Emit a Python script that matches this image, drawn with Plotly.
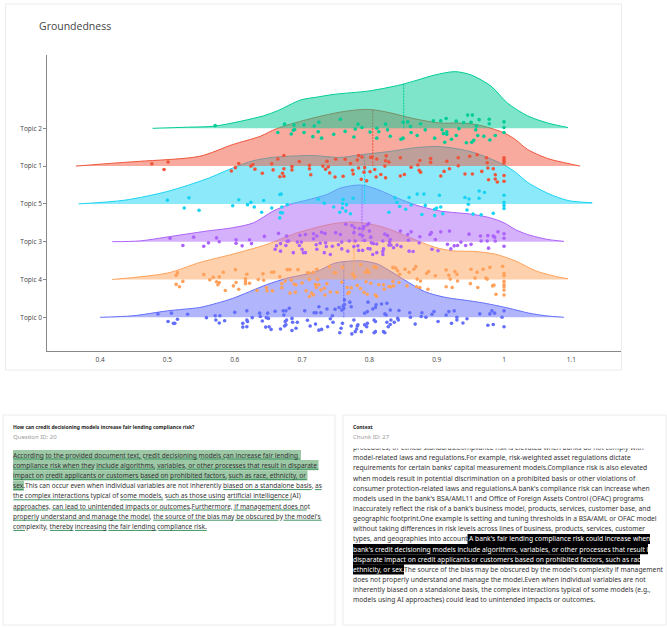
import plotly.graph_objects as go
import numpy as np

W, H = 667, 627
topics = ["Topic 0", "Topic 4", "Topic 3", "Topic 5", "Topic 1", "Topic 2"]
colors = ["#636efa", "#FFA15A", "#ab63fa", "#19d3f3", "#EF553B", "#00cc96"]
x_ticks = [0.4, 0.5, 0.6, 0.7, 0.8, 0.9, 1, 1.1]
medians = [0.762, 0.777, 0.789, 0.793, 0.805, 0.851]

density_0 = [(.40,0),(.449,.04),(.50,.17),(.548,.26),(.573,.37),(.597,.50),(.647,.86),(.677,1.03),(.722,1.21),(.748,1.43),(.773,1.49),(.79,1.49),(.812,1.41),(.832,1.21),(.852,.99),(.882,.68),(.912,.53),(.947,.44),(.972,.37),(1.007,.24),(1.037,.11),(1.062,.04),(1.089,0)]
density_4 = [(.418,0),(.5,.17),(.548,.45),(.597,.67),(.648,.93),(.687,1.20),(.722,1.38),(.748,1.48),(.773,1.52),(.797,1.48),(.823,1.37),(.848,1.20),(.872,1.02),(.898,.85),(.922,.76),(.957,.74),(.987,.67),(1.017,.49),(1.047,.23),(1.077,.08),(1.095,.02)]
density_3 = [(.418,0),(.459,.02),(.498,.12),(.558,.28),(.597,.37),(.628,.50),(.657,.81),(.682,.99),(.707,1.10),(.737,1.25),(.757,1.42),(.787,1.50),(.811,1.39),(.841,1.16),(.869,.97),(.89,.87),(.905,.81),(.955,.72),(.98,.63),(1.0,.50),(1.017,.32),(1.035,.19),(1.065,.06),(1.089,.01)]
density_5 = [(.368,0),(.437,.10),(.50,.33),(.558,.66),(.597,.95),(.627,1.14),(.656,1.23),(.692,1.27),(.716,1.28),(.757,1.23),(.787,1.30),(.831,1.39),(.865,1.48),(.90,1.52),(.930,1.46),(.955,1.36),(.975,1.23),(1.0,1.03),(1.017,.84),(1.035,.57),(1.065,.28),(1.095,.09),(1.131,.03)]
density_1 = [(.364,0),(.425,.085),(.459,.127),(.548,.26),(.597,.57),(.638,.79),(.662,.99),(.707,1.23),(.757,1.43),(.791,1.50),(.806,1.49),(.831,1.41),(.865,1.26),(.905,1.14),(.930,1.14),(.955,1.11),(.975,1.03),(1.0,.88),(1.017,.70),(1.035,.44),(1.065,.20),(1.095,.07),(1.113,0)]
density_2 = [(.478,0),(.53,.03),(.571,.06),(.6426,.33),(.663,.46),(.698,.75),(.72,.82),(.748,.90),(.80,.99),(.846,1.15),(.872,1.28),(.897,1.41),(.927,1.50),(.9515,1.41),(.981,1.11),(1.005,.67),(1.035,.33),(1.065,.14),(1.095,.02)]

points_2 = [(.571,.07),(.674,.11),(.688,.09),(.689,-.03),(.687,-.05),(.664,-.11),(.684,-.15),(.703,.09),(.718,.06),(.725,.16),(.724,-.09),(.703,-.11),(.716,-.22),(.729,-.26),(.747,-.16),(.757,.24),(.783,.11),(.789,.02),(.779,-.02),(.764,-.08),(.777,-.23),(.801,-.10),(.811,0),(.814,-.09),(.824,.11),(.827,-.04),(.811,-.26),(.831,-.21),(.850,.16),(.857,.17),(.861,.05),(.862,-.11),(.876,.12),(.883,-.04),(.895,.20),(.906,.20),(.914,.26),(.929,.19),(.940,.15),(.951,.16),(.963,.23),(.978,.24),(.978,.12),(.959,.06),(.958,-.04),(.933,-.01),(.908,-.04),(.910,-.14),(.915,-.09),(.915,-.16),(.929,-.19),(.922,-.29),(.897,-.26),(.871,-.19),(.850,-.26),(.847,-.29),(.912,-.37),(.944,-.38),(.952,-.37),(.955,-.32),(.961,-.19),(.970,-.21),(.979,-.31),(.987,-.19),(1.0,.17),(1.0,.02),(1.0,-.11),(.946,.35),(.953,.35)]
points_1 = [(.477,.06),(.501,.11),(.495,-.09),(.595,-.13),(.601,-.04),(.606,.07),(.624,0),(.627,.04),(.630,-.08),(.641,-.19),(.655,.06),(.657,-.10),(.664,.19),(.673,.28),(.673,-.07),(.671,-.19),(.667,-.28),(.673,-.27),(.685,-.01),(.685,-.10),(.696,.12),(.711,.02),(.711,-.07),(.713,-.23),(.731,0),(.735,-.08),(.737,.13),(.739,-.02),(.741,-.18),(.750,.18),(.749,-.29),(.761,-.27),(.764,.18),(.772,.07),(.775,-.11),(.776,-.21),(.782,.16),(.784,.28),(.784,-.05),(.789,.24),(.793,-.04),(.792,-.16),(.788,-.35),(.796,-.39),(.802,.23),(.801,-.15),(.804,.24),(.808,-.09),(.811,.19),(.810,-.29),(.817,-.22),(.824,-.31),(.823,0),(.824,.14),(.825,.27),(.829,.11),(.846,.22),(.846,-.26),(.852,-.22),(.862,-.03),(.872,.03),(.875,.15),(.874,-.11),(.876,-.16),(.891,.20),(.891,.10),(.906,-.26),(.911,-.14),(.915,.13),(.919,-.07),(.932,.01),(.932,.22),(.942,-.21),(.949,.26),(.953,-.21),(.960,.30),(.967,-.14),(.974,.22),(.975,.09),(.976,-.05),(.977,-.36),(.984,-.07),(.987,-.23),(.987,-.34),(.990,-.42),(1.0,-.25),(1.0,-.40),(1.0,.22),(1.0,.17),(1.0,.13),(1.0,.08)]
points_5 = [(.500,.10),(.532,.16),(.525,-.11),(.547,-.17),(.597,-.05),(.606,.11),(.619,-.02),(.624,.04),(.629,-.08),(.643,.09),(.640,-.22),(.655,-.11),(.667,.25),(.669,.26),(.670,-.08),(.678,-.02),(.668,-.23),(.671,-.24),(.667,-.37),(.724,.12),(.733,.02),(.747,-.08),(.756,-.22),(.761,.12),(.760,.01),(.766,-.02),(.760,-.11),(.765,-.19),(.772,-.26),(.776,.15),(.829,-.22),(.838,.16),(.841,.04),(.845,-.07),(.854,-.14),(.859,.17),(.862,-.03),(.871,.26),(.881,.26),(.883,-.04),(.878,-.28),(.897,-.14),(.900,-.11),(.906,-.08),(.897,-.31),(.909,-.26),(.904,.23),(.942,.17),(.948,.13),(.963,.34),(.971,.30),(.963,.15),(.947,-.01),(.945,-.16),(.954,-.27),(.966,-.29),(.984,-.25),(1.0,.23),(1.0,.04),(1.0,-.04),(1.0,-.12)]
points_3 = [(.504,.09),(.539,.12),(.523,-.10),(.554,-.12),(.561,-.03),(.573,.10),(.577,0),(.602,.05),(.602,-.04),(.611,-.11),(.622,.05),(.625,-.05),(.644,.14),(.665,.22),(.662,-.11),(.660,-.20),(.668,-.05),(.668,-.25),(.677,.15),(.676,-.10),(.680,.02),(.678,.01),(.687,-.29),(.693,-.01),(.697,.17),(.699,-.01),(.696,-.10),(.700,-.20),(.702,-.29),(.705,-.29),(.705,.19),(.717,.21),(.717,.08),(.722,.15),(.721,-.08),(.722,-.20),(.727,-.04),(.729,.25),(.734,.22),(.733,-.29),(.735,-.03),(.736,-.13),(.742,-.34),(.745,-.12),(.750,.24),(.754,-.08),(.757,.19),(.765,.46),(.778,.37),(.774,.43),(.799,.48),(.797,.45),(.791,.34),(.785,.35),(.792,.40),(.786,.19),(.800,.28),(.777,.24),(.790,.16),(.802,.12),(.759,-.01),(.770,.02),(.779,.02),(.793,.03),(.803,-.03),(.806,-.05),(.783,-.11),(.784,-.23),(.790,-.23),(.759,-.19),(.768,-.25),(.777,-.13),(.798,-.18),(.801,-.19),(.805,-.34),(.811,-.29),(.821,-.19),(.820,-.26),(.820,-.34),(.811,-.06),(.820,.02),(.831,.06),(.830,-.01),(.829,-.09),(.832,-.09),(.823,.20),(.827,.16),(.836,-.16),(.841,-.09),(.847,-.13),(.859,-.25),(.865,-.26),(.846,.28),(.857,.19),(.862,.26),(.875,.13),(.858,.04),(.874,-.03),(.890,.19),(.892,.24),(.906,.26),(.919,.28),(.898,.06),(.893,-.20),(.902,-.24),(.916,-.07),(.921,-.19),(.926,-.11),(.931,-.10),(.936,-.01),(.943,-.10),(.948,.20),(.951,-.07),(.966,.02),(.965,.15),(.976,.16),(.975,.02),(.984,.15),(.987,.02),(.991,.26),(.986,.12),(1.0,.21),(1.0,.09),(1.0,-.12),(.977,-.17)]
points_4 = [(.513,.11),(.515,.18),(.513,-.13),(.518,-.19),(.523,-.05),(.554,.13),(.563,-.01),(.568,.06),(.577,.07),(.583,.19),(.573,-.06),(.577,-.08),(.575,-.14),(.586,-.29),(.598,-.17),(.602,-.08),(.601,.26),(.606,-.26),(.616,.02),(.618,.14),(.616,-.05),(.616,-.11),(.622,-.10),(.635,0),(.642,.15),(.643,-.02),(.633,-.29),(.647,-.21),(.648,-.30),(.656,-.30),(.655,.19),(.658,.20),(.667,.07),(.670,-.11),(.670,-.22),(.675,-.04),(.678,.26),(.682,.26),(.684,-.02),(.682,-.36),(.688,-.12),(.691,-.14),(.690,-.34),(.694,.26),(.700,-.09),(.706,-.30),(.708,.18),(.711,.17),(.711,0),(.717,.19),(.722,.27),(.723,0),(.714,-.36),(.711,-.45),(.717,-.41),(.721,-.21),(.720,-.13),(.725,-.14),(.728,-.28),(.733,-.23),(.734,-.41),(.737,-.11),(.742,-.33),(.741,.34),(.748,.18),(.750,.18),(.752,-.34),(.760,.32),(.759,-.07),(.767,-.21),(.770,-.34),(.768,-.37),(.773,-.22),(.782,-.16),(.787,-.24),(.792,-.34),(.797,-.39),(.775,.14),(.778,.08),(.787,.39),(.797,.26),(.794,.19),(.807,.34),(.799,.19),(.810,.32),(.795,-.06),(.802,-.10),(.814,-.14),(.821,-.14),(.822,-.26),(.809,-.41),(.811,-.45),(.829,-.19),(.832,-.19),(.836,-.17),(.835,-.05),(.844,-.08),(.835,.32),(.839,.30),(.842,.23),(.845,.14),(.853,.27),(.859,.19),(.866,.27),(.869,.34),(.856,-.17),(.871,.01),(.876,-.04),(.870,-.19),(.875,-.21),(.887,-.26),(.885,.16),(.888,.21),(.898,.10),(.914,.25),(.918,.11),(.920,.01),(.927,.21),(.931,-.04),(.930,.14),(.914,-.19),(.923,-.21),(.951,.27),(.950,-.11),(.960,.19),(.957,.04),(.969,.27),(.961,-.21),(.973,.04),(.979,.32),(.975,.01),(.983,-.17),(.985,-.15),(.988,-.39),(.998,.35),(1.0,.16),(1.0,.10),(1.0,-.05),(1.0,-.14),(1.0,-.28),(1.0,-.41),(1.0,-.19)]
points_0 = [(.486,.09),(.506,.11),(.501,-.11),(.509,-.16),(.511,-.16),(.515,-.05),(.530,.08),(.558,-.01),(.571,.04),(.578,.04),(.572,-.07),(.577,-.15),(.585,-.09),(.600,.13),(.612,-.16),(.612,-.26),(.618,-.25),(.618,.17),(.618,-.07),(.619,-.11),(.626,-.01),(.637,.11),(.638,.02),(.641,-.10),(.649,.11),(.647,-.01),(.650,-.03),(.646,-.26),(.651,-.25),(.654,-.32),(.660,.16),(.668,-.31),(.672,.17),(.676,.17),(.673,.06),(.681,.24),(.677,-.07),(.675,-.11),(.674,-.23),(.676,-.20),(.685,-.03),(.686,-.13),(.693,-.13),(.691,-.29),(.685,-.35),(.704,.17),(.708,-.08),(.712,-.23),(.718,.12),(.721,.12),(.720,-.18),(.725,.28),(.728,.12),(.725,-.34),(.729,-.32),(.738,-.25),(.737,.22),(.742,-.04),(.745,.04),(.746,-.13),(.749,.21),(.755,.26),(.756,-.41),(.760,-.16),(.758,-.29),(.761,.30),(.763,.46),(.763,.34),(.762,.24),(.759,.19),(.771,.40),(.773,.28),(.777,-.07),(.773,-.23),(.793,.11),(.798,.40),(.797,.15),(.805,.22),(.810,.33),(.809,.26),(.818,.35),(.826,.37),(.823,.09),(.825,.06),(.831,.19),(.844,.18),(.832,-.07),(.837,-.13),(.826,-.13),(.828,-.25),(.831,-.19),(.842,-.03),(.843,-.07),(.860,.12),(.861,0),(.868,-.18),(.878,.12),(.877,.02),(.884,0),(.893,.08),(.896,.15),(.902,-.11),(.914,.06),(.918,.15),(.926,.17),(.922,-.16),(.930,0),(.930,-.07),(.939,-.15),(.945,-.04),(.964,.09),(.979,.09),(.976,-.21),(.982,.17),(.984,-.19),(.986,.11),(1.0,.17),(.997,0),(1.0,-.25),(.807,-.07),(.809,-.11),(.797,-.16),(.793,-.20),(.796,-.25),(.782,-.23),(.781,-.31),(.779,-.38),(.774,-.44),(.788,-.38),(.807,-.41),(.809,-.38),(.821,-.38),(.823,-.41),(.783,-.20)]

all_density = [density_0, density_4, density_3, density_5, density_1, density_2]
all_points = [points_0, points_4, points_3, points_5, points_1, points_2]

question_title = "How can credit decisioning models increase fair lending compliance risk?"
question_id = "Question ID: 20"
answer_lines = [
    "According to the provided document text, credit decisioning models can increase fair lending",
    "compliance risk when they include algorithms, variables, or other processes that result in disparate",
    "impact on credit applicants or customers based on prohibited factors, such as race, ethnicity, or",
    "sex.",
    "the complex interactions typical of some models, such as those using artificial intelligence (AI)",
    "approaches, can lead to unintended impacts or outcomes.Furthermore, if management does not",
    "properly understand and manage the model, the source of the bias may be obscured by the model's",
    "complexity, thereby increasing the fair lending compliance risk.",
]
answer_line4_rest = "This can occur even when individual variables are not inherently biased on a standalone basis, as"
context_title = "Context"
context_id = "Chunk ID: 27"
context_cut = "procedures, or ethical standards.Compliance risk is elevated when banks do not comply with"
context_lines = [
    "model-related laws and regulations.For example, risk-weighted asset regulations dictate",
    "requirements for certain banks' capital measurement models.Compliance risk is also elevated",
    "when models result in potential discrimination on a prohibited basis or other violations of",
    "consumer protection-related laws and regulations.A bank's compliance risk can increase when",
    "models used in the bank's BSA/AML11 and Office of Foreign Assets Control (OFAC) programs",
    "inaccurately reflect the risk of a bank's business model, products, services, customer base, and",
    "geographic footprint.One example is setting and tuning thresholds in a BSA/AML or OFAC model",
    "without taking differences in risk levels across lines of business, products, services, customer",
    "types, and geographies into account.",
    "",
    "",
    "",
    "does not properly understand and manage the model.Even when individual variables are not",
    "inherently biased on a standalone basis, the complex interactions typical of some models (e.g.,",
    "models using AI approaches) could lead to unintended impacts or outcomes.",
]
context_hl = [
    "A bank's fair lending compliance risk could increase when a",
    "bank's credit decisioning models include algorithms, variables, or other processes that result in",
    "disparate impact on credit applicants or customers based on prohibited factors, such as race,",
    "ethnicity, or sex.",
]
context_after = "The source of the bias may be obscured by the model's complexity if management"

def rgba(h, a):
    h = h.lstrip("#")
    return f"rgba({int(h[0:2],16)},{int(h[2:4],16)},{int(h[4:6],16)},{a})"

fig = go.Figure()
for rank, (name, col) in enumerate(zip(topics, colors)):
    dx = np.array([p[0] for p in all_density[rank]])
    dh = np.array([p[1] for p in all_density[rank]])
    fig.add_trace(go.Scatter(x=dx, y=np.full(len(dx), rank), mode="lines", line=dict(width=0), showlegend=False, hoverinfo="skip"))
    fig.add_trace(go.Scatter(x=dx, y=rank + dh, mode="lines", name=name, showlegend=False,
                             line=dict(color=col, width=1, shape="spline", smoothing=0.8),
                             fill="tonexty", fillcolor=rgba(col, 0.5)))
    m = medians[rank]
    fig.add_trace(go.Scatter(x=[m, m], y=[rank, rank + float(np.interp(m, dx, dh))], mode="lines", showlegend=False,
                             line=dict(color=col, width=1, dash="2px,1px")))
    fig.add_trace(go.Scatter(x=[p[0] for p in all_points[rank]], y=[rank + p[1] for p in all_points[rank]],
                             mode="markers", showlegend=False, marker=dict(color=col, size=3.6, line=dict(width=0))))

def px(x): return x / W
def py(y): return 1 - y / H

shapes = []
def card(x0, y0, x1, y1):
    shapes.append(dict(type="rect", xref="paper", yref="paper", x0=px(x0), x1=px(x1), y0=py(y0), y1=py(y1),
                       fillcolor="white", line=dict(color="#ececec", width=1), layer="below"))
card(5.5, 4, 621.5, 370)
card(3, 415, 335, 625)
card(343, 415, 666, 625)

def box(x0, x1, yc, color, h=10.2):
    shapes.append(dict(type="rect", xref="paper", yref="paper", x0=px(x0), x1=px(x1), y0=py(yc - h/2), y1=py(yc + h/2),
                       fillcolor=color, line=dict(width=0), layer="below"))

ans_y = [455, 465.2, 475.4, 485.6, 495.8, 506, 516.2, 526.4]
GREEN = "#9cc8a6"
box(13, 301, ans_y[0], GREEN); box(13, 318.5, ans_y[1], GREEN); box(13, 307.5, ans_y[2], GREEN); box(13, 24, ans_y[3], GREEN)

underlines = [
    [(40,130),(135,195),(198,425),(432,595),(600,675),(680,900)],
    [(40,280),(288,465),(470,555),(560,955)],
    [(40,130),(135,420),(425,505),(510,680),(685,920)],
    [(40,70),(670,935),(945,965)],
    [(40,270),(360,490),(500,675),(685,875)],
    [(40,145),(155,395),(400,570),(575,690),(700,770),(785,920)],
    [(40,115),(120,450),(460,700),(705,835),(850,965)],
    [(40,75),(150,220),(225,320),(325,470),(475,620)],
]
for yc, segs in zip(ans_y, underlines):
    for a, b in segs:
        shapes.append(dict(type="line", xref="paper", yref="paper", x0=px(a/3), x1=px(b/3), y0=py(yc+4), y1=py(yc+4),
                           line=dict(color="#3d9460", width=1)))

ctx_y = [457.7 + 10.16 * i for i in range(15)]
box(467.5, 650, ctx_y[8], "#000000"); box(353, 648, ctx_y[9], "#000000"); box(353, 640, ctx_y[10], "#000000"); box(353, 404, ctx_y[11], "#000000")

FONT = "Noto Sans"
CTX = 6.72
ann = []
def text(x, y, s, size, color="#333333", family=FONT):
    ann.append(dict(xref="paper", yref="paper", x=px(x), y=py(y), text=s, showarrow=False, xanchor="left", yanchor="middle",
                    font=dict(size=size, color=color, family=family), borderpad=0, borderwidth=0))

text(39, 26, "Groundedness", 10.5, "#444444", "Open Sans")
text(13, 426.8, f"<b>{question_title}</b>", 5.0, "#222222")
text(13, 436.8, question_id, 6, "#9a9a9a")
for yc, s in zip(ans_y, answer_lines):
    text(13, yc, s, 6.55)
text(24.5, ans_y[3], answer_line4_rest, 6.55)
text(353, 426.8, f"<b>{context_title}</b>", 5.0, "#222222")
text(353, 436.8, context_id, 6, "#9a9a9a")
text(353, 447.6, context_cut, CTX)
ann.append(dict(xref="paper", yref="paper", x=px(350), y=py(444), text=" ", showarrow=False, xanchor="left", yanchor="middle",
                width=310, height=7, bgcolor="white", borderpad=0, font=dict(size=5)))
for yc, s in zip(ctx_y, context_lines):
    if s:
        text(353, yc, s, CTX)
text(468.5, ctx_y[8], context_hl[0], CTX, "white")
text(353, ctx_y[9], context_hl[1], CTX, "white")
text(353, ctx_y[10], context_hl[2], CTX, "white")
text(353, ctx_y[11], context_hl[3], CTX, "white")
text(404, ctx_y[11], context_after, CTX)

fig.update_layout(
    width=W, height=H, autosize=False, margin=dict(l=0, r=0, t=0, b=0),
    paper_bgcolor="white", plot_bgcolor="rgba(0,0,0,0)", showlegend=False, shapes=shapes, annotations=ann,
    font=dict(family="Open Sans", color="#444444", size=7),
    xaxis=dict(domain=[47.3/W, 620.7/W], range=[0.3216, 1.1733], tickvals=x_ticks, ticktext=["0.4","0.5","0.6","0.7","0.8","0.9","1","1.1"],
               showgrid=False, zeroline=False, showline=True, linecolor="#888888", linewidth=1, ticks="", tickfont=dict(size=6.5, family="Open Sans"), ticklabelstandoff=2),
    yaxis=dict(domain=[1-351/H, 1-55/H], range=[-0.892, 6.94], tickvals=list(range(6)), ticktext=topics,
               showgrid=False, zeroline=False, showline=True, linecolor="#888888", linewidth=1, ticks="outside", ticklen=3, tickcolor="#888888", tickfont=dict(size=6.5, family="Open Sans")),
)
fig.write_html("out.html", config=dict(displayModeBar=False), post_script="document.body.style.margin='0';")
